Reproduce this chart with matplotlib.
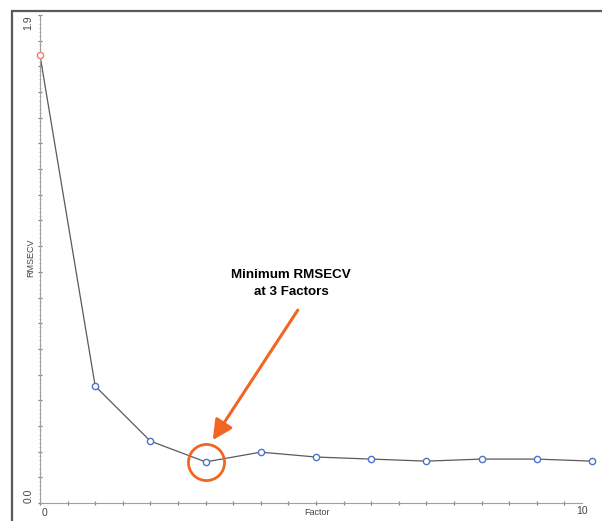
import matplotlib.pyplot as plt
import matplotlib.patches as mpatches
import numpy as np

# cross-validation error vs number of factors
factors = [0, 1, 2, 3, 4, 5, 6, 7, 8, 9, 10]
rmsecv = [1.743, 0.455, 0.241, 0.160, 0.198, 0.179, 0.171, 0.163, 0.171, 0.171, 0.163]
best_factor = 3

W, H = 602, 521
fig = plt.figure(figsize=(W / 100, H / 100), dpi=100)
plt.rcParams['font.family'] = ['Liberation Sans', 'DejaVu Sans']

# outer frame
fig.add_artist(mpatches.Rectangle((12 / W, -0.05), 1.2, 1 - 11 / H + 0.05,
                                  transform=fig.transFigure, fill=False,
                                  ec='#5a5a5a', lw=1.6))

ax = fig.add_axes([40 / W, 18 / H, 552 / W, 488 / H])
ax.set_xlim(0, 10)
ax.set_ylim(0, 1.9)
for s in ['top', 'right']:
    ax.spines[s].set_visible(False)
ax.spines['left'].set_color('#a0a0a0')
ax.spines['bottom'].set_color('#a0a0a0')
ax.spines['left'].set_linewidth(0.8)
ax.spines['bottom'].set_linewidth(0.8)
ax.spines['bottom'].set_bounds(0, 9.82)

ax.set_xticks(np.arange(0, 10, 0.5))
ax.set_yticks(np.arange(0, 1.91, 0.1))
ax.set_yticks(np.arange(0, 1.9, 0.1 / 6), minor=True)
ax.set_xticklabels([])
ax.set_yticklabels([])
ax.tick_params(axis='both', which='major', direction='inout', length=2.5,
               width=0.9, color='#808080')
ax.tick_params(axis='y', which='minor', direction='inout', length=1.5,
               width=0.6, color='#b5b5b5')

# end labels
tk = dict(fontsize=7.5, color='#444444')
ax.text(-0.2, 0.0, '0.0', rotation=90, ha='center', va='bottom', **tk)
ax.text(-0.22, 1.9, '1.9', rotation=90, ha='center', va='top', **tk)
ax.text(0.03, -0.02, '0', ha='left', va='top', **tk)
ax.text(9.82, -0.01, '10', ha='center', va='top', **tk)
ax.text(5.02, -0.02, 'Factor', ha='center', va='top', fontsize=6.5, color='#444444')
ax.text(-0.17, 0.955, 'RMSECV', rotation=90, ha='center', va='center',
        fontsize=6.5, color='#444444')

ax.plot(factors, rmsecv, color='#5a5a5a', lw=0.9, clip_on=False, zorder=2)
ax.plot(factors[1:], rmsecv[1:], 'o', ms=4.5, mfc='white', mec='#4f72c8',
        mew=1.0, clip_on=False, zorder=3)
ax.plot(factors[:1], rmsecv[:1], 'o', ms=4.5, mfc='white', mec='#e8826a',
        mew=1.0, clip_on=False, zorder=3)

# callout on the minimum
orange = '#f26522'
ax.plot([factors[best_factor]], [rmsecv[best_factor]], 'o', ms=26, mfc='none',
        mec=orange, mew=2.0, zorder=4)
ax.annotate('', xy=(3.13, 0.245), xytext=(4.67, 0.751),
            arrowprops=dict(arrowstyle='-|>,head_length=0.6,head_width=0.3',
                            color=orange, lw=2.2, mutation_scale=20,
                            shrinkA=0, shrinkB=0))
ax.text(4.55, 0.856, 'Minimum RMSECV\nat 3 Factors', ha='center', va='center',
        fontsize=9.6, fontweight='bold', color='black', linespacing=1.55)

fig.savefig('out.png', dpi=100)
